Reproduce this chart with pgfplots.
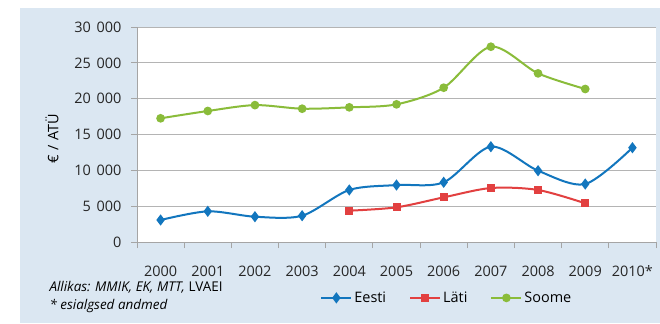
\documentclass[border=0pt]{standalone}
\usepackage{fontspec}
\setmainfont{Open Sans}
\usepackage{pgfplots}
\pgfplotsset{compat=1.18}

\definecolor{bgblue}{RGB}{219,231,242}
\definecolor{eesti}{RGB}{18,118,190}
\definecolor{lati}{RGB}{226,64,64}
\definecolor{soome}{RGB}{138,188,58}
\definecolor{gridgray}{RGB}{180,180,180}
\definecolor{axisgray}{RGB}{165,165,165}

\begin{document}
\begin{tikzpicture}[x=1bp,y=1bp]
\path[use as bounding box] (-137,-81) rectangle (523,242);
\fill[bgblue] (-117,-81) rectangle (523,234);
\begin{axis}[
  at={(0,0)}, anchor=south west,
  scale only axis, width=519bp, height=215bp,
  axis background/.style={fill=white},
  xmin=-0.5, xmax=10.5, ymin=0, ymax=30000,
  axis x line*=bottom, axis y line*=left,
  axis line style={axisgray, line width=1bp, -},
  xtick={0,...,10},
  xticklabels={2000,2001,2002,2003,2004,2005,2006,2007,2008,2009,2010*},
  major x tick style={draw=none},
  minor xtick={-0.5,0.5,...,10.5},
  minor x tick style={axisgray, line width=1bp},
  minor tick length=6bp,
  ytick={0,5000,...,30000},
  major y tick style={axisgray, line width=1bp},
  major tick length=6bp,
  tick align=outside,
  ymajorgrids, grid style={gridgray, line width=1bp},
  /pgf/number format/.cd, 1000 sep={\hspace{0.4em}}, assume math mode=true,
  /pgfplots/.cd,
  scaled y ticks=false,
  tick label style={font=\fontsize{14.5}{16}\selectfont, text=black!85},
  xticklabel style={yshift=-14bp},
  yticklabel style={xshift=-6bp},
  ylabel={€\hspace{0.3em}/\hspace{0.3em}ATÜ},
  ylabel style={font=\fontsize{14.5}{16}\selectfont, at={(axis description cs:-0.164,0.48)}, anchor=center},
  legend columns=3,
  legend style={draw=none, fill=none, at={(axis description cs:0.597,-0.26)}, anchor=center,
    font=\fontsize{14.5}{16}\selectfont, /tikz/every even column/.append style={column sep=21bp}},
  legend image code/.code={\draw[mark repeat=2,mark phase=2] plot coordinates {(0bp,0bp) (15bp,0bp) (30bp,0bp)};},
  every axis plot/.append style={line width=2bp, smooth, tension=0.5},
  clip=false,
]
\addplot[eesti, mark=diamond*, mark size=4bp, mark options={solid}] coordinates {
  (0,3070) (1,4280) (2,3530) (3,3670) (4,7260) (5,7950) (6,8330) (7,13300) (8,9950) (9,8090) (10,13160)};
\addlegendentry{Eesti}
\addplot[lati, mark=square*, mark size=3bp] coordinates {
  (4,4370) (5,4840) (6,6230) (7,7530) (8,7260) (9,5400)};
\addlegendentry{Läti}
\addplot[soome, mark=*, mark size=3.3bp] coordinates {
  (0,17260) (1,18280) (2,19100) (3,18600) (4,18790) (5,19210) (6,21530) (7,27250) (8,23530) (9,21350)};
\addlegendentry{Soome}
\end{axis}
\node[anchor=west, font=\fontsize{13.5}{15}\selectfont\itshape] at (-91,-45) {Allikas: MMIK, EK, MTT, \upshape LVAEI};
\node[anchor=west, font=\fontsize{13.5}{15}\selectfont\itshape] at (-91,-64) {* esialgsed andmed};
\end{tikzpicture}
\end{document}
